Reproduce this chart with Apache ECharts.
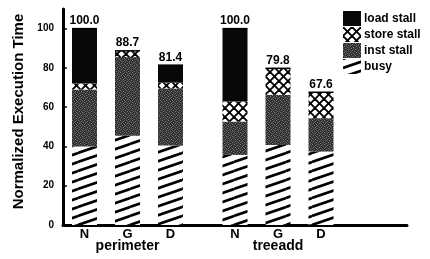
<!DOCTYPE html>
<html><head><meta charset="utf-8">
<script src="https://cdn.jsdelivr.net/npm/echarts@6/dist/echarts.min.js"></script>
<style>html,body{margin:0;padding:0;background:#fff}#c{width:430px;height:259px}</style>
</head><body><div id="c"></div>
<script>
const categories = ['N','G','D','N','G','D'];
const groups = ['perimeter','treeadd'];
const busy  = [40.0, 45.5, 40.5, 35.7, 40.8, 37.4];
const inst  = [29.0, 40.0, 29.0, 17.0, 25.5, 17.0];
const store = [3.0, 3.2, 3.0, 10.2, 13.5, 13.2];
const load  = [28.0, 0.0, 8.9, 37.1, 0.0, 0.0];
const totals = [100.0, 88.7, 81.4, 100.0, 79.8, 67.6];
const yTicks = [0, 20, 40, 60, 80, 100];

// category layout with spacer slots
const axisCats = [''];
const groupCats = [''];
const slotIdx = [];
groups.forEach((g, gi) => {
  for (let j = 0; j < 3; j++) {
    slotIdx.push(axisCats.length);
    axisCats.push(categories[gi * 3 + j]);
    groupCats.push(j === 1 ? g : '');
    axisCats.push(''); groupCats.push('');
  }
  axisCats.push(''); groupCats.push('');
});
while (axisCats.length < 17) { axisCats.push(''); groupCats.push(''); }
function toSlots(arr) {
  const out = axisCats.map(() => null);
  arr.forEach((v, i) => { out[slotIdx[i]] = v; });
  return out;
}

// patterns
function cv(w, h) { const c = document.createElement('canvas'); c.width = w; c.height = h; return c; }
function busyPattern() {
  const c = cv(26, 9), x = c.getContext('2d');
  x.fillStyle = '#fff'; x.fillRect(0, 0, 26, 9);
  x.strokeStyle = '#000'; x.lineWidth = 2.6;
  [-9, 0, 9].forEach(d => { x.beginPath(); x.moveTo(0, 9 + d); x.lineTo(26, d); x.stroke(); });
  return c;
}
function instPattern() {
  const c = cv(6, 6), x = c.getContext('2d');
  x.fillStyle = '#2e2e2e'; x.fillRect(0, 0, 6, 6);
  x.fillStyle = '#7a7a7a';
  [[0,0],[3,1],[1,3],[4,4],[5,2],[2,5]].forEach(p => x.fillRect(p[0], p[1], 1, 1));
  x.fillStyle = '#555';
  [[1,1],[4,0],[0,4],[3,3],[5,5],[2,2]].forEach(p => x.fillRect(p[0], p[1], 1, 1));
  return c;
}
function storePattern() {
  const c = cv(9, 9), x = c.getContext('2d');
  x.fillStyle = '#fff'; x.fillRect(0, 0, 9, 9);
  x.strokeStyle = '#000'; x.lineWidth = 1.9;
  [-9, 0, 9].forEach(d => {
    x.beginPath(); x.moveTo(d, 0); x.lineTo(9 + d, 9); x.stroke();
    x.beginPath(); x.moveTo(d, 9); x.lineTo(9 + d, 0); x.stroke();
  });
  return c;
}

const FONT = 'Liberation Sans';
const chart = echarts.init(document.getElementById('c'), null, {renderer: 'canvas'});
function barSeries(name, data, color) {
  return { name, type: 'bar', stack: 'all', barWidth: 25, data: toSlots(data),
    itemStyle: { color }, emphasis: { disabled: true } };
}
chart.setOption({
  animation: false,
  grid: { left: 63, right: 23, top: 9, bottom: 34 },
  legend: {
    orient: 'vertical', left: 343, top: 11, padding: 0, itemWidth: 18, itemHeight: 15, itemGap: 1,
    selectedMode: false, icon: 'rect',
    data: ['load stall', 'store stall', 'inst stall', 'busy'],
    textStyle: { fontFamily: FONT, fontWeight: 'bold', fontSize: 12, color: '#000', padding: [0,0,0,-2] }
  },
  xAxis: [
    { type: 'category', data: axisCats, boundaryGap: false, position: 'bottom',
      axisLine: { lineStyle: { color: '#000', width: 3 } }, axisTick: { show: false },
      axisLabel: { interval: 0, margin: 3, color: '#000', fontFamily: FONT, fontWeight: 'bold', fontSize: 13 } },
    { type: 'category', data: groupCats, boundaryGap: false, position: 'bottom', offset: 12,
      axisLine: { show: false }, axisTick: { show: false },
      axisLabel: { interval: 0, margin: 2, color: '#000', fontFamily: FONT, fontWeight: 'bold', fontSize: 14 } }
  ],
  yAxis: {
    type: 'value', min: 0, max: 110, interval: 20,
    name: 'Normalized Execution Time', nameLocation: 'middle', nameGap: 35,
    nameTextStyle: { fontFamily: FONT, fontWeight: 'bold', fontSize: 15, color: '#000', padding: [0,0,0,11] },
    axisLine: { show: true, lineStyle: { color: '#000', width: 3 } },
    axisTick: { show: true, inside: true, length: 4, lineStyle: { color: '#000', width: 1.5 } },
    axisLabel: { showMaxLabel: false, margin: 9, color: '#000', fontFamily: FONT, fontWeight: 'bold', fontSize: 10,
      formatter: v => (yTicks.indexOf(v) >= 0 ? String(v) : '') },
    splitLine: { show: false }
  },
  series: [
    barSeries('busy', busy, { image: busyPattern(), repeat: 'repeat' }),
    barSeries('inst stall', inst, { image: instPattern(), repeat: 'repeat' }),
    barSeries('store stall', store, { image: storePattern(), repeat: 'repeat' }),
    barSeries('load stall', load, '#080808'),
    { name: 'total', type: 'scatter', symbol: 'rect', symbolSize: [25, 1.5], data: toSlots(totals),
      itemStyle: { color: '#000', opacity: 1 }, z: 5, emphasis: { disabled: true },
      label: { show: true, position: 'top', distance: 1, color: '#000', opacity: 1, fontFamily: FONT, fontSize: 12, fontWeight: 'bold',
        formatter: p => p.value.toFixed(1) } }
  ]
});
</script></body></html>
